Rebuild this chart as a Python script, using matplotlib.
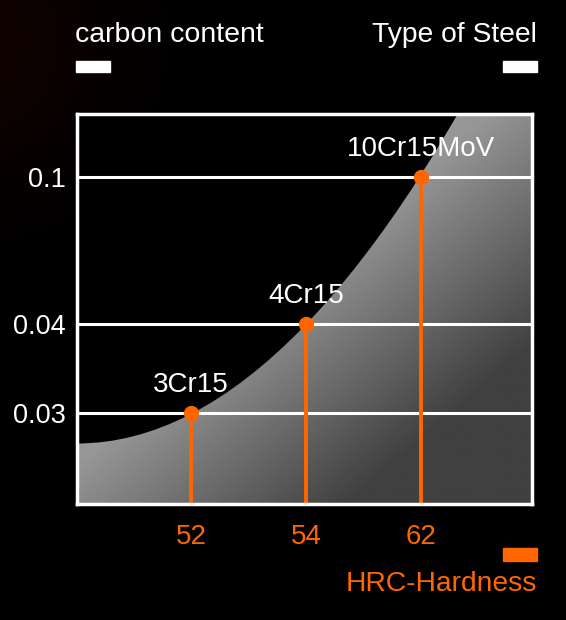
import matplotlib.pyplot as plt
import numpy as np
from matplotlib.path import Path
from matplotlib.patches import PathPatch, Rectangle

# chart data
steels = ['3Cr15', '4Cr15', '10Cr15MoV']
hardness = ['52', '54', '62']
carbon = [0.03, 0.04, 0.1]
carbon_labels = ['0.03', '0.04', '0.1']

# the carbon axis is not to scale in the original, so rows are placed by hand
rows = [0, 1, 2.65]

orange = '#ff6600'
plt.rcParams['font.family'] = ['Liberation Sans', 'DejaVu Sans']

fig = plt.figure(figsize=(5.66, 6.2), dpi=100, facecolor='black')

# faint red glow in the top-left corner
bg = fig.add_axes([0, 0, 1, 1], zorder=-5)
gx, gy = np.meshgrid(np.linspace(0, 566, 200), np.linspace(0, 620, 200))
r = np.hypot(gx + 40, gy - 40)
glow = np.zeros((200, 200, 3))
glow[..., 0] = 0.08 * np.clip(1 - r / 260, 0, 1) ** 1.5
glow[..., 1] = 0.01 * np.clip(1 - r / 260, 0, 1) ** 1.5
bg.imshow(glow, extent=(0, 566, 620, 0), aspect='auto')
bg.set_xlim(0, 566)
bg.set_ylim(620, 0)
bg.axis('off')

ax = fig.add_axes([0.136, 0.187, 0.804, 0.629])
ax.set_facecolor('black')
x = np.arange(len(steels))
xlo, xhi = -0.99, 2.965
ylo, yhi = -1.02, 3.36
ax.set_xlim(xlo, xhi)
ax.set_ylim(ylo, yhi)

# shaded area under a parabola-like curve (quadratic bezier)
c0 = -0.34
k = 0.3377
yend = k * (xhi - xlo) ** 2 + c0
verts = [(xlo, c0), ((xlo + xhi) / 2, c0), (xhi, yend), (xhi, ylo - 1), (xlo, ylo - 1), (xlo, c0)]
codes = [Path.MOVETO, Path.CURVE3, Path.CURVE3, Path.LINETO, Path.LINETO, Path.CLOSEPOLY]
patch = PathPatch(Path(verts, codes), facecolor='none', edgecolor='none')
ax.add_patch(patch)

xa, ya = np.meshgrid(np.linspace(0, 1, 300), np.linspace(1, 0, 300))
t = (xa + (1 - ya)) / 2
shade = np.interp(t, [0.45, 0.8], [0.59, 0.25])
im = ax.imshow(shade, cmap='gray', vmin=0, vmax=1, extent=(xlo, xhi, ylo, yhi),
               aspect='auto', interpolation='bilinear', zorder=1)
im.set_clip_path(patch)

for rw in rows:
    ax.axhline(rw, color='white', lw=2.2, zorder=2)

ax.vlines(x, ylo, rows, color=orange, lw=2.8, zorder=3)
ax.plot(x, rows, 'o', color=orange, ms=10, zorder=4)

for xi, rw, name in zip(x, rows, steels):
    ax.annotate(name, (xi, rw), xytext=(0, 15), textcoords='offset points',
                ha='center', va='baseline', color='white', fontsize=20)

for s in ax.spines.values():
    s.set_color('white')
    s.set_linewidth(2.5)
    s.set_zorder(5)

ax.set_yticks(rows, carbon_labels)
ax.set_xticks(x, hardness)
ax.tick_params(axis='y', length=0, colors='white', labelsize=19.5, pad=8)
ax.tick_params(axis='x', length=0, colors=orange, labelsize=20, pad=14)

# header / footer labels with small bars
fig.text(75 / 566, 1 - 42 / 620, 'carbon content', color='white', fontsize=20.5,
         ha='left', va='baseline')
fig.text(537 / 566, 1 - 42 / 620, 'Type of Steel', color='white', fontsize=20.3,
         ha='right', va='baseline')
fig.text(537 / 566, 1 - 591 / 620, 'HRC-Hardness', color=orange, fontsize=20.3,
         ha='right', va='baseline')
fig.patches.append(Rectangle((76 / 566, 1 - 72 / 620), 34 / 566, 11 / 620,
                             color='white', transform=fig.transFigure))
fig.patches.append(Rectangle((503 / 566, 1 - 72 / 620), 34 / 566, 11 / 620,
                             color='white', transform=fig.transFigure))
fig.patches.append(Rectangle((503 / 566, 1 - 561 / 620), 34 / 566, 13 / 620,
                             color=orange, transform=fig.transFigure))

fig.savefig('out.png', dpi=100, facecolor='black')
